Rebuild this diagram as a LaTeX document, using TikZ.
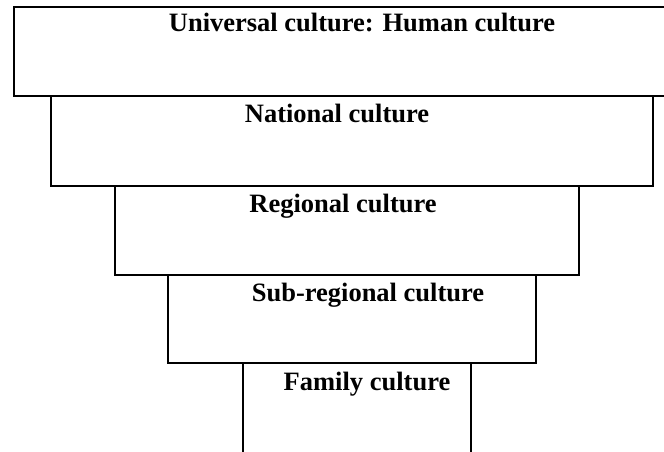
\documentclass[tikz,border=0pt]{standalone}
\usepackage{fontspec}
\setmainfont{Liberation Serif}
\begin{document}
\begin{tikzpicture}[x=1pt,y=-1pt,
  tier/.style={draw=black,line width=2.3pt},
  tiername/.style={anchor=base,inner sep=0pt,font=\fontsize{26.5}{30}\selectfont\bfseries}]
  \useasboundingbox (0,0) rectangle (664,452);
  \clip (0,0) rectangle (664,452);
  % nested tiers of culture, widest on top
  \draw[tier] (14,7)   rectangle (690,96);
  \draw[tier] (51,96)  rectangle (653,186);
  \draw[tier] (115,186) rectangle (579,275);
  \draw[tier] (168,275) rectangle (536,363);
  \draw[tier] (243,363) rectangle (471,480);
  % tier labels
  \node[tiername] (universal) at (362,32)  {Universal culture: Human culture};
  \node[tiername] (national)  at (337,122) {National culture};
  \node[tiername] (regional)  at (343,212) {Regional culture};
  \node[tiername] (subregion) at (368,301) {Sub-regional culture};
  \node[tiername] (family)    at (367,390) {Family culture};
\end{tikzpicture}
\end{document}
